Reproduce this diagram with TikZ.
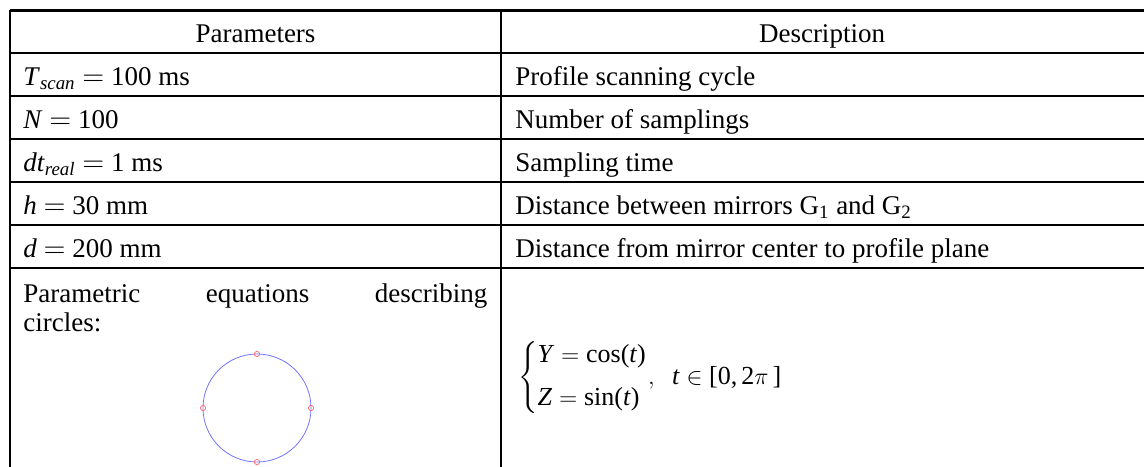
\documentclass[tikz,border=0pt]{standalone}
\usepackage{amsmath}
\usepackage{fontspec}
\setmainfont{Liberation Serif}
\usetikzlibrary{positioning}

\newcommand{\vi}[1]{\textit{#1}}

\begin{document}
\begin{tikzpicture}[x=0.5pt, y=-0.5pt,
    cell text/.style={anchor=base west, inner sep=0pt,
        font=\fontsize{13.5}{16}\selectfont},
    head text/.style={anchor=base, inner sep=0pt,
        font=\fontsize{13.5}{16}\selectfont},
    rule/.style={line width=1.3pt},
    curve/.style={blue!55, line width=0.4pt},
    marker/.style={circle, draw=red!60, inner sep=0pt,
        minimum size=2.6pt, line width=0.35pt}
]
\useasboundingbox (0,0) rectangle (1144,466);

% table rules
\foreach \y in {10.5,53,96,139,182,225,268}
    \draw[rule] (10,\y) -- (1160,\y);
\draw[rule] (10,9.8) -- (10,480);
\draw[rule] (501,9.8) -- (501,480);

% header
\node[head text] (param) at (255.5,42) {Parameters};
\node[head text] (desc) at (822,42) {Description};

% rows
\node[cell text] (tscan) at (23,85.5) {\vi{T}\textsubscript{\vi{scan}} $=$ 100 ms};
\node[cell text] (cycle) at (515,85.5) {Profile scanning cycle};
\node[cell text] (nsamp) at (23,128.5) {\vi{N} $=$ 100};
\node[cell text] (count) at (515,128.5) {Number of samplings};
\node[cell text] (dtreal) at (23,171.5) {\vi{dt}\textsubscript{\vi{real}} $=$ 1 ms};
\node[cell text] (stime) at (515,171.5) {Sampling time};
\node[cell text] (hdist) at (23,214.5) {\vi{h} $=$ 30 mm};
\node[cell text] (mirr) at (515,214.5) {Distance between mirrors G\textsubscript{1} and G\textsubscript{2}};
\node[cell text] (ddist) at (23,257.5) {\vi{d} $=$ 200 mm};
\node[cell text] (plane) at (515,257.5) {Distance from mirror center to profile plane};

% last row
\node[cell text] (para) at (23,302) {\makebox[232pt][s]{Parametric equations describing}};
\node[cell text] (circ) at (23,331) {circles:};

\draw[curve] (257,408) circle [radius=27pt];
\node[marker] (mt) at (257,354) {};
\node[marker] (mb) at (257,462) {};
\node[marker] (ml) at (203,408) {};
\node[marker] (mr) at (311,408) {};

\node[anchor=west, inner sep=0pt, font=\fontsize{13}{15.6}\selectfont] (eqs) at (518,378)
    {$\left\{\begin{array}{@{}l@{}} \text{\vi{Y}}=\text{cos(\vi{t})}\\[6pt]
      \text{\vi{Z}}=\text{sin(\vi{t})}\end{array}\right.\!,\;\;
      \text{\vi{t}}\in\text{[0,}\,\text{2}\pi\,\text{]}$};

\end{tikzpicture}
\end{document}
